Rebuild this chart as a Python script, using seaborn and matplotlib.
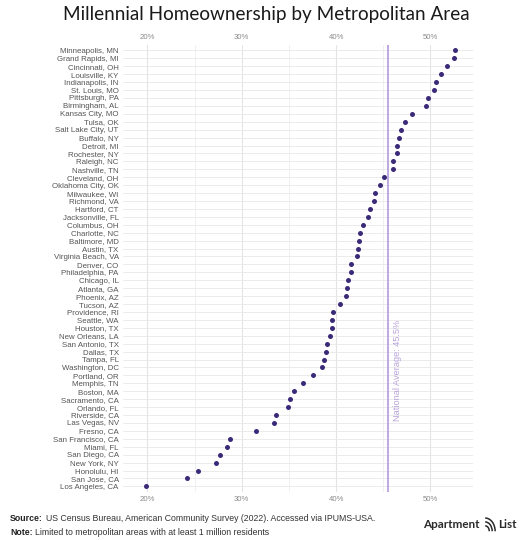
import matplotlib
matplotlib.use("Agg")
import matplotlib.pyplot as plt
from matplotlib.patches import Arc
from matplotlib.ticker import FuncFormatter, MultipleLocator
import seaborn as sns
import pandas as pd

# data (share of millennials owning a home, %)
cities = [
    "Minneapolis, MN", "Grand Rapids, MI", "Cincinnati, OH", "Louisville, KY",
    "Indianapolis, IN", "St. Louis, MO", "Pittsburgh, PA", "Birmingham, AL",
    "Kansas City, MO", "Tulsa, OK", "Salt Lake City, UT", "Buffalo, NY",
    "Detroit, MI", "Rochester, NY", "Raleigh, NC", "Nashville, TN",
    "Cleveland, OH", "Oklahoma City, OK", "Milwaukee, WI", "Richmond, VA",
    "Hartford, CT", "Jacksonville, FL", "Columbus, OH", "Charlotte, NC",
    "Baltimore, MD", "Austin, TX", "Virginia Beach, VA", "Denver, CO",
    "Philadelphia, PA", "Chicago, IL", "Atlanta, GA", "Phoenix, AZ",
    "Tucson, AZ", "Providence, RI", "Seattle, WA", "Houston, TX",
    "New Orleans, LA", "San Antonio, TX", "Dallas, TX", "Tampa, FL",
    "Washington, DC", "Portland, OR", "Memphis, TN", "Boston, MA",
    "Sacramento, CA", "Orlando, FL", "Riverside, CA", "Las Vegas, NV",
    "Fresno, CA", "San Francisco, CA", "Miami, FL", "San Diego, CA",
    "New York, NY", "Honolulu, HI", "San Jose, CA", "Los Angeles, CA",
]
ownership = [
    52.6, 52.5, 51.8, 51.1, 50.6, 50.4, 49.7, 49.5,
    48.0, 47.3, 46.9, 46.7, 46.5, 46.4, 46.0, 46.0,
    45.1, 44.7, 44.1, 44.0, 43.6, 43.4, 42.8, 42.5,
    42.4, 42.3, 42.2, 41.6, 41.6, 41.3, 41.1, 41.0,
    40.4, 39.7, 39.6, 39.6, 39.3, 39.0, 38.9, 38.7,
    38.5, 37.5, 36.5, 35.5, 35.1, 34.9, 33.6, 33.4,
    31.5, 28.7, 28.4, 27.7, 27.3, 25.4, 24.2, 19.9,
]
national_avg = 45.5
x_ticks = [20, 30, 40, 50]

df = pd.DataFrame({"city": cities, "ownership": ownership})

sns.set_theme(style="white")
plt.rcParams["font.family"] = ["Liberation Sans", "DejaVu Sans"]

fig = plt.figure(figsize=(5.32, 5.40), dpi=100)
ax = fig.add_axes([0.231, 0.089, 0.658, 0.828])

sns.stripplot(data=df, x="ownership", y="city", order=cities, jitter=False,
              color="#3b2a78", size=3.6, linewidth=0, ax=ax, zorder=3)

ax.axvline(national_avg, color="#b9a3dd", lw=1.3, zorder=2)
ax.text(national_avg + 0.55, 46.8, f"National Average: {national_avg}%",
        rotation=90, color="#b9a3dd", fontsize=6.6, ha="left", va="bottom")

ax.set_xlim(17.4, 54.5)
ax.set_ylim(55.7, -0.7)
ax.xaxis.set_minor_locator(MultipleLocator(5))
ax.set_xticks(x_ticks)
ax.xaxis.set_major_formatter(FuncFormatter(lambda v, _: f"{v:.0f}%"))
ax.grid(axis="x", which="major", color="#e4e4e4", lw=0.8)
ax.grid(axis="x", which="minor", color="#f0f0f0", lw=0.7)
ax.grid(axis="y", which="major", color="#e8e8e8", lw=0.6)
ax.set_axisbelow(True)
ax.tick_params(axis="x", which="both", top=True, labeltop=True, length=0,
               labelsize=5.6, labelcolor="#8a8a8a", pad=3)
ax.tick_params(axis="y", length=0, labelsize=5.7, labelcolor="#555555", pad=3)
ax.set_xlabel("")
ax.set_ylabel("")
for s in ax.spines.values():
    s.set_visible(False)

fig.text(0.5, 0.974, "Millennial Homeownership by Metropolitan Area",
         ha="center", va="center", fontsize=13.6, family=["Lato", "DejaVu Sans"],
         color="#1a1a1a")

# footer notes: bold lead word, then regular text placed right after it
renderer = fig.canvas.get_renderer()
footer = [("Source:", "US Census Bureau, American Community Survey (2022). Accessed via IPUMS-USA.", 0.039),
          ("Note:", "Limited to metropolitan areas with at least 1 million residents", 0.013)]
for lead, rest, yy in footer:
    t = fig.text(0.019, yy, lead, fontsize=6.3, fontweight="bold", color="#222222", va="center")
    bb = t.get_window_extent(renderer).transformed(fig.transFigure.inverted())
    fig.text(bb.x1 + 0.005, yy, rest, fontsize=6.3, color="#333333", va="center")

# logo
fig.text(0.795, 0.029, "Apartment", fontsize=8.4, fontweight="bold",
         family=["Lato", "DejaVu Sans"], color="#2a2a2a", va="center")
fig.text(0.936, 0.029, "List", fontsize=8.4, fontweight="bold",
         family=["Lato", "DejaVu Sans"], color="#2a2a2a", va="center")
icon = fig.add_axes([0.912, 0.013, 0.022, 0.032])
icon.set_xlim(0, 1)
icon.set_ylim(0, 1)
icon.axis("off")
for r in (0.35, 0.6, 0.85):
    icon.add_patch(Arc((0.0, 0.1), 2 * r, 1.8 * r, theta1=0, theta2=90,
                       color="#2a2a2a", lw=1.1))

fig.savefig("out.png", dpi=100)
